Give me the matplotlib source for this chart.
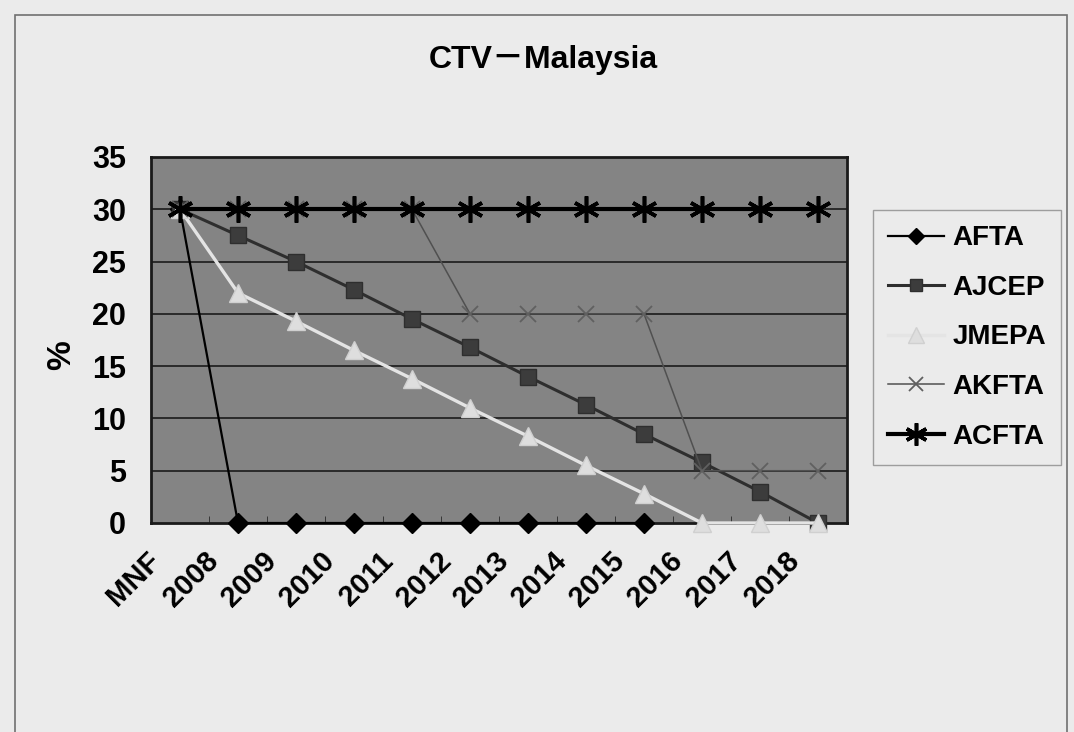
import matplotlib
matplotlib.use("Agg")
import matplotlib.pyplot as plt
from matplotlib.patches import Rectangle
import numpy as np

# tariff schedule data (% rate), MNF base then yearly steps
years = ["MNF", "2008", "2009", "2010", "2011", "2012", "2013",
         "2014", "2015", "2016", "2017", "2018"]
afta = [30, 0, 0, 0, 0, 0, 0, 0, 0, None, None, None]
ajcep = [30, 27.5, 25, 22.3, 19.5, 16.8, 14, 11.3, 8.5, 5.8, 3, 0]
jmepa = [30, 22, 19.3, 16.5, 13.8, 11, 8.3, 5.5, 2.8, 0, 0, 0]
akfta = [30, 30, 30, 30, 30, 20, 20, 20, 20, 5, 5, 5]
acfta = [30, 30, 30, 30, 30, 30, 30, 30, 30, 30, 30, 30]

paper = "#ebebeb"
font = ["Liberation Sans", "DejaVu Sans"]

fig = plt.figure(figsize=(10.74, 7.32), dpi=100, facecolor=paper)

# outer chart frame
fig.patches.append(Rectangle((15 / 1074, -0.02), 1052 / 1074, 1 - 15 / 732 + 0.02,
                             transform=fig.transFigure, fill=False,
                             edgecolor="#707070", lw=1.2))

ax = fig.add_axes([151 / 1074, 1 - 523 / 732, 696 / 1074, 366 / 732])
ax.set_facecolor("#848484")

x = np.arange(len(years))


def arr(v):
    return np.array([np.nan if a is None else a for a in v], dtype=float)


ax.plot(x, arr(afta), color="black", lw=1.6, marker="D", ms=10,
        mfc="black", mec="black", clip_on=False, zorder=3, label="AFTA")
ax.plot(x, arr(ajcep), color="#2e2e2e", lw=2.2, marker="s", ms=11,
        mfc="#3c3c3c", mec="#2e2e2e", clip_on=False, zorder=3, label="AJCEP")
ax.plot(x, arr(jmepa), color="#e4e4e4", lw=2.4, marker="^", ms=13,
        mfc="#dedede", mec="#d0d0d0", clip_on=False, zorder=3, label="JMEPA")
ax.plot(x, arr(akfta), color="#505050", lw=1.1, marker="x", ms=12, mew=1.3,
        mfc="#606060", mec="#606060", clip_on=False, zorder=3, label="AKFTA")
ax.plot(x, arr(acfta), color="black", lw=3, marker=(6, 2, 0), ms=19, mew=2.6,
        mec="black", clip_on=False, zorder=4, label="ACFTA")

ax.set_xlim(-0.5, len(years) - 0.5)
ax.set_ylim(0, 35)
ax.set_yticks(range(0, 36, 5))
ax.set_yticklabels([str(v) for v in range(0, 36, 5)], fontsize=22,
                   fontweight="bold", family=font)
for v in range(5, 35, 5):
    ax.axhline(v, color="#2a2a2a", lw=1.4, zorder=1)

# category labels sit left of their points, rotated 45 degrees
ax.set_xticks([])
for xi, name in zip(x, years):
    ax.annotate(name, xy=(xi, 0), xycoords="data", xytext=(-24, -17),
                textcoords="offset points", rotation=45, ha="right", va="top",
                rotation_mode="anchor", fontsize=21, fontweight="bold",
                family=font, annotation_clip=False)
ax.set_xticks(np.arange(-0.5, len(years), 1), minor=True)
ax.tick_params(axis="x", which="minor", direction="in", length=5,
               color="#2a2a2a")
ax.tick_params(axis="y", length=0, pad=18)

for s in ax.spines.values():
    s.set_color("#1a1a1a")
    s.set_linewidth(2)

fig.text(62 / 1074, 1 - 355 / 732, "%", rotation=90, fontsize=24,
         fontweight="bold", family=font, ha="center", va="center")
fig.text(543 / 1074, 1 - 60 / 732, "CTV－Malaysia", fontsize=23,
         fontweight="bold", family=["Liberation Sans", "Noto Sans CJK JP"],
         ha="center", va="center")

leg = fig.legend(loc="upper left", bbox_to_anchor=(873 / 1074, 1 - 210 / 732),
                 frameon=True, fancybox=False,
                 prop={"family": font, "weight": "bold", "size": 20},
                 handlelength=2.0, handletextpad=0.3, labelspacing=0.85,
                 borderpad=0.55, borderaxespad=0, markerscale=0.85)
leg.get_frame().set_edgecolor("#8a8a8a")
leg.get_frame().set_facecolor(paper)
leg.get_frame().set_linewidth(1.0)

fig.savefig("out.png", dpi=100, facecolor=paper)
